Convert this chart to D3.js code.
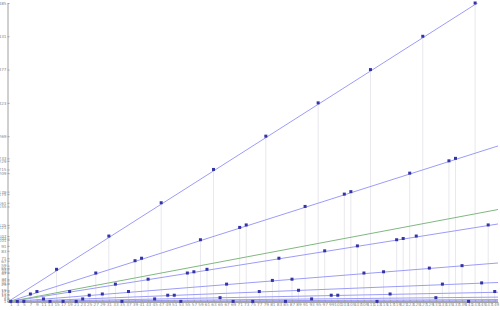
<!DOCTYPE html>
<html>
<head>
<meta charset="utf-8">
<script src="https://cdn.jsdelivr.net/npm/d3@7/dist/d3.min.js"></script>
<style>
  body { margin: 0; background: #fff; }
  svg { display: block; }
  .tick text { font-family: "DejaVu Sans", sans-serif; font-size: 4.2px; fill: #8a8a8a; }
  .domain { stroke: #a0a0a0; }
  .tick line { stroke: #a0a0a0; }
</style>
</head>
<body>
<div id="chart"></div>
<script>
// odd starting values and the value reached after three odd steps
var startValues = [1,3,5,7,9,11,13,15,17,19,21,23,25,27,29,31,33,35,37,39,41,43,45,47,49,
  51,53,55,57,59,61,63,65,67,69,71,73,75,77,79,81,83,85,87,89,91,93,95,97,99,
  101,103,105,107,109,111,113,115,117,119,121,123,125,127,129,131,133,135,137,139,141,143,145,147,149];
var thirdValues = [1,1,1,13,17,5,1,53,1,17,1,5,11,47,13,107,29,1,17,67,71,37,5,161,11,
  11,1,47,49,101,53,215,7,29,1,121,125,1,17,269,35,71,1,37,19,155,5,323,83,11,
  11,175,179,91,47,377,1,49,13,101,103,209,107,431,55,7,29,229,233,59,1,485,31,125,17];
// guide lines y = 27x / d
var lineDenoms = [8,16,32,64,128,256,512,1024,2048,4096];
var identitySlope = 1;

var width = 500, height = 310;
var x = d3.scaleLinear().domain([0, 150]).range([7.5, 498]);
var y = d3.scaleLinear().domain([0, 485]).range([302, 3]);

var svg = d3.select("#chart").append("svg")
  .attr("width", width)
  .attr("height", height);

svg.append("clipPath").attr("id", "plot")
  .append("rect")
  .attr("x", x(0)).attr("y", y(485))
  .attr("width", x(150) - x(0)).attr("height", y(0) - y(485));

var points = startValues.map(function (n, i) { return { n: n, v: thirdValues[i] }; });

// drop lines
svg.append("g").selectAll("line")
  .data(points)
  .enter().append("line")
  .attr("x1", function (d) { return x(d.n); })
  .attr("x2", function (d) { return x(d.n); })
  .attr("y1", function (d) { return y(d.v); })
  .attr("y2", y(0))
  .attr("stroke", "#e8e8ee")
  .attr("stroke-width", 1);

var guides = svg.append("g").attr("clip-path", "url(#plot)");
guides.selectAll("line.slope")
  .data(lineDenoms)
  .enter().append("line")
  .attr("class", "slope")
  .attr("x1", x(0)).attr("y1", y(0))
  .attr("x2", x(150))
  .attr("y2", function (d) { return y(150 * 27 / d); })
  .attr("stroke", "#9c9cf7")
  .attr("stroke-width", 1);

guides.append("line")
  .attr("x1", x(0)).attr("y1", y(0))
  .attr("x2", x(150)).attr("y2", y(150 * identitySlope))
  .attr("stroke", "#80b880")
  .attr("stroke-width", 1);

// axes
var yTicks = Array.from(new Set(thirdValues)).sort(d3.ascending);

svg.append("g")
  .attr("transform", "translate(" + x(0) + ",0)")
  .call(d3.axisLeft(y).tickValues(yTicks).tickSizeInner(-2).tickSizeOuter(0).tickPadding(1).tickFormat(d3.format("d")));

svg.append("g")
  .attr("transform", "translate(0," + y(0) + ")")
  .call(d3.axisBottom(x).tickValues(startValues).tickSizeInner(-2).tickSizeOuter(0).tickPadding(1.5).tickFormat(d3.format("d")));

// markers
svg.append("g").selectAll("rect")
  .data(points)
  .enter().append("rect")
  .attr("x", function (d) { return x(d.n) - 1.5; })
  .attr("y", function (d) { return y(d.v) - 1.5; })
  .attr("width", 3)
  .attr("height", 3)
  .attr("fill", "#3434a6");
</script>
</body>
</html>
